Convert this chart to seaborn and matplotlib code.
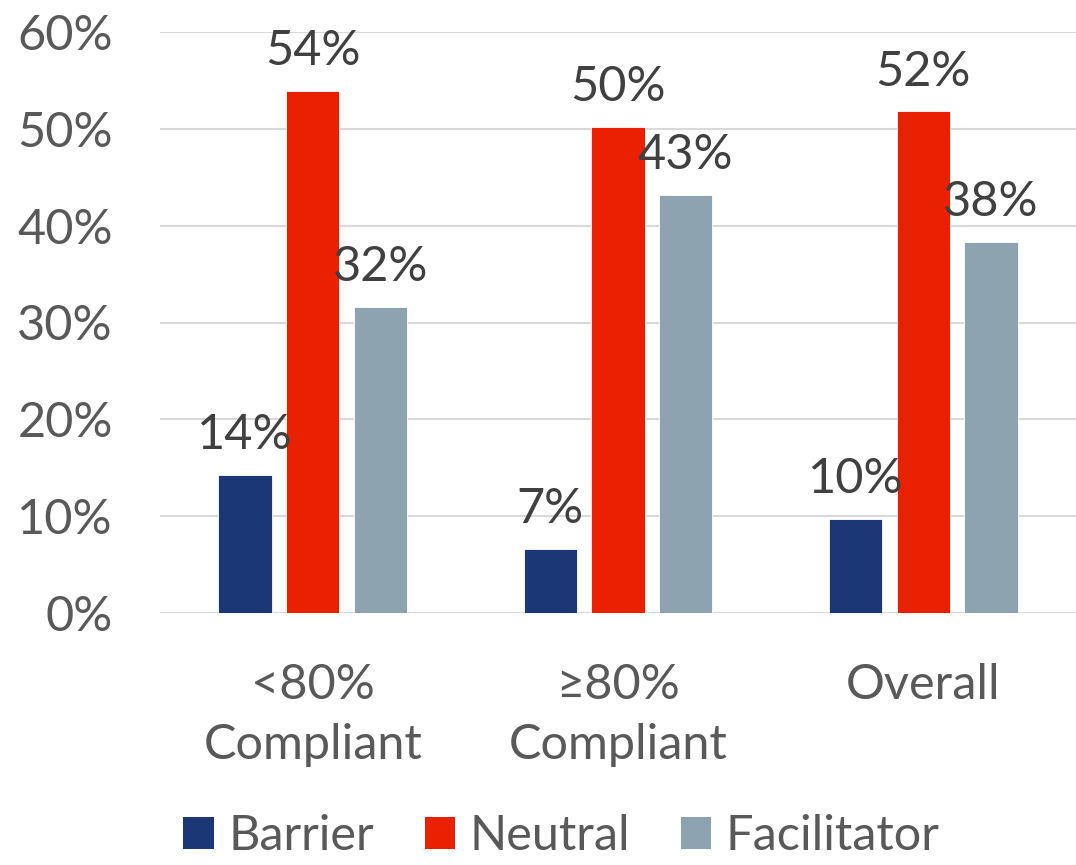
import matplotlib
matplotlib.use("Agg")
import matplotlib.pyplot as plt
import seaborn as sns
import pandas as pd
from matplotlib.ticker import PercentFormatter
from matplotlib.patches import Patch

# Survey results: share of respondents per rating, by compliance group
groups = ["<80%\nCompliant", "\u226580%\nCompliant", "Overall"]
ratings = ["Barrier", "Neutral", "Facilitator"]
barrier = [0.143, 0.066, 0.097]
neutral = [0.539, 0.502, 0.518]
facilitator = [0.316, 0.432, 0.383]
colors = ["#1B3775", "#EA2100", "#8DA3B0"]

rows = []
for g, b, n, f in zip(groups, barrier, neutral, facilitator):
    for r, v in zip(ratings, (b, n, f)):
        rows.append({"group": g, "rating": r, "share": v})
df = pd.DataFrame(rows)

sns.set_theme(style="white")
plt.rcParams["font.family"] = ["Lato", "DejaVu Sans"]

fig = plt.figure(figsize=(10.76, 8.65), dpi=100)
ax = fig.add_axes([160 / 1076, 1 - 613 / 865, 1 - 160 / 1076, (613 - 32) / 865])

sns.barplot(data=df, x="group", y="share", hue="rating", order=groups,
            hue_order=ratings, palette=colors, saturation=1, width=0.664,
            gap=0.21, edgecolor="white", linewidth=0.6, legend=False, ax=ax)

ax.set_ylim(0, 0.6)
ax.set_xlim(-0.5, 2.5)
ax.yaxis.set_major_formatter(PercentFormatter(1.0, decimals=0))
ax.set_yticks([0, 0.1, 0.2, 0.3, 0.4, 0.5, 0.6])
ax.grid(axis="y", color="#D9D9D9", linewidth=1.5)
ax.set_axisbelow(True)
for s in ax.spines.values():
    s.set_visible(False)
ax.set_xlabel("")
ax.set_ylabel("")
ax.tick_params(axis="y", length=0, pad=34, labelsize=35, labelcolor="#595959")
ax.tick_params(axis="x", length=0, pad=36, labelsize=35, labelcolor="#595959")
for lbl in ax.get_xticklabels():
    lbl.set_linespacing(1.45)

# value labels above each bar
for cont in ax.containers:
    for bar in cont:
        h = bar.get_height()
        ax.annotate(f"{round(h * 100):.0f}%",
                    xy=(bar.get_x() + bar.get_width() / 2, h),
                    xytext=(0, 18.5), textcoords="offset points",
                    ha="center", va="baseline", fontsize=35, color="#404040")

handles = [Patch(facecolor=c, edgecolor="none") for c in colors]
fig.legend(handles, ratings, loc="center", bbox_to_anchor=(0.522, 1 - 836 / 865),
           ncol=3, frameon=False, fontsize=35, labelcolor="#595959",
           handlelength=0.62, handleheight=0.62, handletextpad=0.3,
           columnspacing=1.05)

fig.savefig("out.png", dpi=100)
